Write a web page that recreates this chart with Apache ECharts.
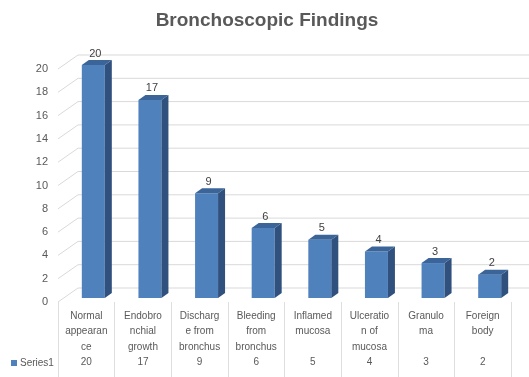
<!DOCTYPE html>
<html>
<head>
<meta charset="utf-8">
<script src="https://cdn.jsdelivr.net/npm/echarts@6/dist/echarts.min.js"></script>
<style>
  html, body { margin: 0; padding: 0; background: #fff; }
  #chart { width: 529px; height: 377px; }
</style>
</head>
<body>
<div id="chart"></div>
<script>
var categories = ["Normal appearance", "Endobronchial growth", "Discharge from bronchus", "Bleeding from bronchus",
  "Inflamed mucosa", "Ulceration of mucosa", "Granuloma", "Foreign body"];
var tickLabels = ["Normal\nappearan\nce", "Endobro\nnchial\ngrowth", "Discharg\ne from\nbronchus", "Bleeding\nfrom\nbronchus",
  "Inflamed\nmucosa", "Ulceratio\nn of\nmucosa", "Granulo\nma", "Foreign\nbody"];
var values = [20, 17, 9, 6, 5, 4, 3, 2];
var yTicks = [0, 2, 4, 6, 8, 10, 12, 14, 16, 18, 20];

var FONT = "Liberation Sans";
// fake 3d: wall depth and bar depth offsets
var wallDx = 20, wallDy = 14;
var barW = 23, barDx = 7, barDy = 4, sideX = 7, sideY = 5;

function renderGrid(params, api) {
  var y = api.coord([0, api.value(1)])[1];
  var x = params.coordSys.x;
  return {
    type: "polyline",
    shape: { points: [[x, y], [x + wallDx, y - wallDy], [api.getWidth(), y - wallDy]] },
    style: { stroke: "#d9d9d9", lineWidth: 1, fill: null }
  };
}

function renderBar(params, api) {
  var i = api.value(0), v = api.value(1);
  var base = api.coord([i, 0]);
  var top = api.coord([i, v]);
  var x0 = base[0] + barDx - barW / 2, x1 = x0 + barW;
  var yb = base[1] - barDy, yt = top[1] - barDy;
  return {
    type: "group",
    children: [
      { type: "rect", shape: { x: x0, y: yt, width: barW, height: yb - yt }, style: { fill: "#4f81bd" } },
      { type: "polygon", shape: { points: [[x1, yt], [x1 + sideX, yt - sideY], [x1 + sideX, yb - sideY], [x1, yb]] },
        style: { fill: "#30507d" } },
      { type: "polygon", shape: { points: [[x0, yt], [x0 + sideX, yt - sideY], [x1 + sideX, yt - sideY], [x1, yt]] },
        style: { fill: "#3b6498" } },
      { type: "text", x: x0 + barW / 2 + 2, y: yt - sideY - 1,
        style: { text: String(v), align: "center", verticalAlign: "bottom", fontSize: 11, fontFamily: FONT, fill: "#404040" } }
    ]
  };
}

var chart = echarts.init(document.getElementById("chart"));
chart.setOption({
  animation: false,
  title: {
    text: "Bronchoscopic Findings",
    left: 262, textAlign: "center", top: 6,
    textStyle: { fontSize: 19, fontWeight: "bold", color: "#595959", fontFamily: FONT }
  },
  legend: {
    data: ["Series1"],
    left: 6, top: 353,
    icon: "rect", itemWidth: 6, itemHeight: 6, itemGap: 4,
    textStyle: { fontSize: 10, color: "#595959", fontFamily: FONT, padding: [0, 0, 0, -2] }
  },
  grid: { left: 58, right: 18, top: 69, bottom: 75 },
  xAxis: {
    type: "category",
    data: categories,
    axisLine: { show: false },
    axisTick: { show: true, length: 75, lineStyle: { color: "#dedede" } },
    axisLabel: {
      interval: 0, margin: 6, fontSize: 10, lineHeight: 15.5, color: "#595959", fontFamily: FONT,
      formatter: function (val, idx) {
        var lab = tickLabels[idx];
        var n = lab.split("\n").length;
        for (var k = n; k < 3; k++) lab += "\n ";
        return lab + "\n" + values[idx];
      }
    }
  },
  yAxis: {
    type: "value", min: 0, max: 20, interval: 2,
    axisLine: { show: false }, axisTick: { show: false }, splitLine: { show: false },
    axisLabel: { fontSize: 11, color: "#595959", margin: 10, fontFamily: FONT }
  },
  series: [
    {
      type: "custom", name: "grid", z: 1, silent: true,
      renderItem: renderGrid,
      data: yTicks.map(function (t) { return [0, t]; }),
      encode: { x: 0, y: 1 }
    },
    {
      type: "custom", name: "Series1", z: 2,
      itemStyle: { color: "#4f81bd" },
      renderItem: renderBar,
      data: values.map(function (v, i) { return [i, v]; }),
      encode: { x: 0, y: 1 }
    }
  ]
});
</script>
</body>
</html>
